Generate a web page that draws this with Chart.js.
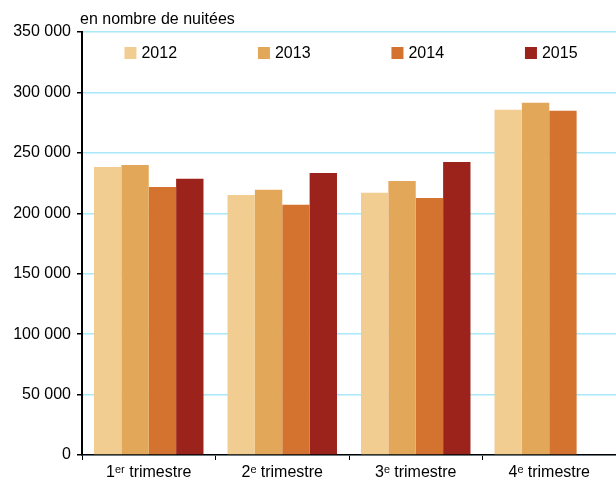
<!DOCTYPE html>
<html><head><meta charset="utf-8">
<script src="https://cdn.jsdelivr.net/npm/chart.js@4"></script>
<style>html,body{margin:0;padding:0;background:#fff}#wrap{width:616px;height:482px}</style>
</head><body><div id="wrap"><canvas id="c" width="616" height="482"></canvas></div>
<script>
const categories = ['1ᵉʳ trimestre', '2ᵉ trimestre', '3ᵉ trimestre', '4ᵉ trimestre'];
const years = ['2012', '2013', '2014', '2015'];
const v2012 = [238400, 215200, 216900, 285600];
const v2013 = [240000, 219400, 226800, 291400];
const v2014 = [221800, 207000, 212700, 284800];
const v2015 = [228500, 233400, 242500, null];
const colors = ['#F2CD91', '#E3A75A', '#D4722F', '#9C231C'];
const yTitle = 'en nombre de nuitées';
const FONT = "'Liberation Sans', Arial, sans-serif";

const series = [v2012, v2013, v2014, v2015];
const fmt = v => String(v).replace(/\B(?=(\d{3})+(?!\d))/g, ' ');

const inLegend = {
  id: 'inLegend',
  afterDraw(chart) {
    const ctx = chart.ctx, xs = chart.scales.x;
    ctx.save();
    ctx.font = '16px ' + FONT;
    ctx.textBaseline = 'middle';
    chart.data.datasets.forEach((ds, i) => {
      const cx = xs.getPixelForValue(i);
      const tw = ctx.measureText(ds.label).width;
      const total = 12 + 5 + tw;
      const x0 = cx - total / 2 + 2;
      const y = chart.chartArea.top + 21;
      ctx.fillStyle = ds.backgroundColor;
      ctx.fillRect(x0, y - 6, 12, 12);
      ctx.fillStyle = '#000';
      ctx.fillText(ds.label, x0 + 17, y + 1);
    });
    ctx.textBaseline = 'alphabetic';
    ctx.fillText(yTitle, chart.chartArea.left - 2, 24);
    ctx.restore();
  }
};

new Chart(document.getElementById('c'), {
  type: 'bar',
  data: {
    labels: categories,
    datasets: series.map((d, i) => ({
      label: years[i], data: d, backgroundColor: colors[i],
      barPercentage: 1.0, categoryPercentage: 0.82
    }))
  },
  options: {
    responsive: false, animation: false,
    layout: { padding: { top: 32, right: 0, left: 0, bottom: 0 } },
    plugins: { legend: { display: false }, tooltip: { enabled: false } },
    scales: {
      x: {
        offset: true,
        grid: { offset: true, drawOnChartArea: false, color: '#000', tickColor: '#000', tickLength: 5, lineWidth: 1 },
        border: { color: '#000', width: 1.5 },
        ticks: { color: '#000', font: { family: FONT, size: 16 }, padding: 3, maxRotation: 0 },
        afterFit(s) { s.height = 27; }
      },
      y: {
        min: 0, max: 350000,
        ticks: { stepSize: 50000, color: '#000', font: { family: FONT, size: 16 }, padding: 6, callback: v => fmt(v) },
        grid: { color: '#A8E8F8', lineWidth: 1.5, tickColor: '#000', tickLength: 5 },
        border: { color: '#000', width: 2 },
        afterFit(s) { s.width = 82; }
      }
    }
  },
  plugins: [inLegend]
});
</script></body></html>
